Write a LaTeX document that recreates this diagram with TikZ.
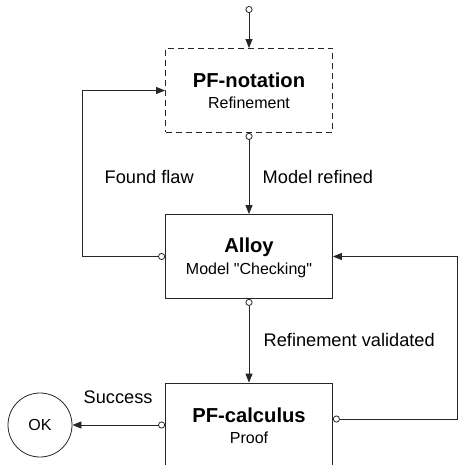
\documentclass[tikz,border=0pt]{standalone}
\usepackage{fontspec}
\setmainfont{Liberation Sans}[Ligatures=TeXOff]
\usetikzlibrary{arrows.meta,positioning}

\begin{document}
\begin{tikzpicture}
[
	              x = 1pt,
	              y = -1pt,
	     line width = 0.8pt,
	            >= {Triangle[length=9pt,width=7pt]},
	  stage/.style = { draw=black!85, rectangle, minimum width=167pt, minimum height=84pt, inner sep=0pt },
	  title/.style = { draw=none, font=\fontsize{20.2}{23}\selectfont\bfseries },
	    sub/.style = { draw=none, font=\fontsize{16}{19}\selectfont },
	  label/.style = { draw=none, anchor=west, font=\fontsize{18.2}{21}\selectfont },
	   flow/.style = { draw=black!85, {Circle[open,length=7pt,width=7pt]}-> },
	 finish/.style = { draw=black!85, circle, minimum size=64pt, inner sep=0pt, font=\fontsize{16}{19}\selectfont }
]
    \useasboundingbox (0,0) rectangle (458,465);

    \coordinate (entry)        at (249,  6);

    \node (notation)           at (249, 90.5) [stage, dashed, dash pattern=on 6pt off 4pt] {};
    \node (notationTitle)      at (249, 80)   [title]  {PF-notation};
    \node (notationSub)        at (249,103)   [sub]    {Refinement};

    \node (alloy)              at (249,256.5) [stage]  {};
    \node (alloyTitle)         at (249,247)   [title]  {Alloy};
    \node (alloySub)           at (249,270)   [sub]    {Model "Checking"};

    \node (calculus)           at (249,425)   [stage]  {};
    \node (calculusTitle)      at (249,415)   [title]  {PF-calculus};
    \node (calculusSub)        at (249,438)   [sub]    {Proof};

    \node (ok)                 at ( 40,425)   [finish] {OK};

    \coordinate (flawHigh)     at ( 82, 90.5);
    \coordinate (checkLow)     at (457,419);
    \coordinate (checkHigh)    at (457,256.5);

    \node (flawLabel)          at (101,177)   [label]  {Found flaw};
    \node (refinedLabel)       at (259,177)   [label]  {Model refined};
    \node (validatedLabel)     at (260,340)   [label]  {Refinement validated};
    \node (successLabel)       at ( 80,397)   [label]  {Success};

    \draw[flow] (entry) -- (notation.north);
    \draw[flow] (notation.south) -- (alloy.north);
    \draw[flow] (alloy.west) -| (flawHigh) -- (notation.west);
    \draw[flow] (alloy.south) -- (calculus.north);
    \draw[flow] (calculus.west) -- (ok.east);
    \draw[flow] ([yshift=6pt]calculus.east) -- (checkLow) -- (checkHigh) -- (alloy.east);

\end{tikzpicture}
\end{document}
